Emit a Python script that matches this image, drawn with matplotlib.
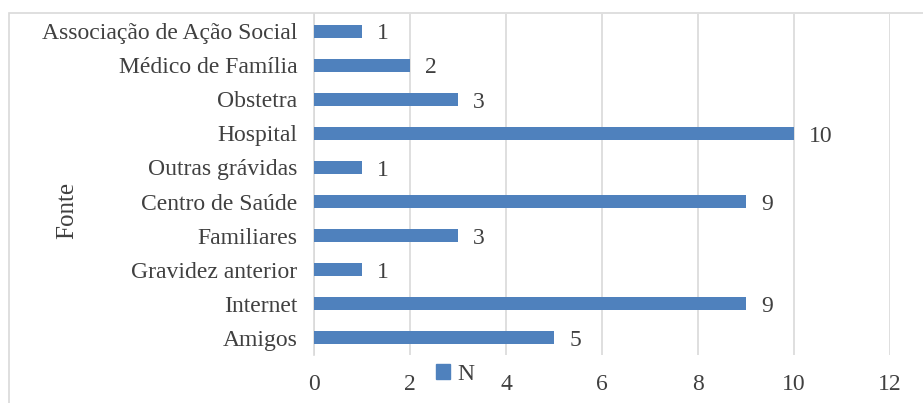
import matplotlib
matplotlib.use("Agg")
import matplotlib.pyplot as plt
from matplotlib.patches import Rectangle, Patch

categories = ["Amigos", "Internet", "Gravidez anterior", "Familiares", "Centro de Saúde",
              "Outras grávidas", "Hospital", "Obstetra", "Médico de Família",
              "Associação de Ação Social"]
values = [5, 9, 1, 3, 9, 1, 10, 3, 2, 1]
xticks = [0, 2, 4, 6, 8, 10, 12]

plt.rcParams['font.family'] = ['Liberation Serif', 'DejaVu Serif']
txt = '#404040'
grid = '#d9d9d9'
bar_color = '#4f81bd'
fs = 17

fig = plt.figure(figsize=(9.23, 4.03), dpi=100)
ax = fig.add_axes([314/923, 1 - 355/403, (890 - 314)/923, (355 - 14)/403])

y = list(range(len(categories)))
ax.barh(y, values, height=0.38, color=bar_color, zorder=3)
for yi, v in zip(y, values):
    ax.annotate(str(v), (v, yi), xytext=(11, -2), textcoords='offset points',
                ha='left', va='center', fontsize=fs, color=txt)

ax.set_xlim(0, 12)
ax.set_ylim(-0.5, len(categories) - 0.5)
ax.set_xticks(xticks)
ax.set_xticklabels([str(t) for t in xticks], fontsize=fs, color=txt)
ax.set_yticks(y)
ax.set_yticklabels(categories, fontsize=fs, color=txt)
ax.tick_params(axis='both', length=0)
ax.tick_params(axis='x', pad=14)
ax.tick_params(axis='y', pad=12)
ax.xaxis.grid(True, color=grid, linewidth=1.2, zorder=0)
for s in ['top', 'right', 'bottom']:
    ax.spines[s].set_visible(False)
ax.spines['left'].set_color(grid)
ax.spines['left'].set_linewidth(1.2)
fig.text(67/923, 1 - 210/403, "Fonte", rotation=90, ha='center', va='center',
         fontsize=18, color=txt)

fig.legend(handles=[Patch(color=bar_color, label='N')], loc='center',
           bbox_to_anchor=(455/923, 1 - 374/403), frameon=False, fontsize=fs,
           handlelength=0.6, handleheight=0.6, handletextpad=0.3, labelcolor=txt)

fig.patches.append(Rectangle((9/923, -0.05), 1.0, 1 - 13/403 + 0.05, transform=fig.transFigure,
                             fill=False, edgecolor=grid, linewidth=1.2))

fig.savefig("out.png", dpi=100)
